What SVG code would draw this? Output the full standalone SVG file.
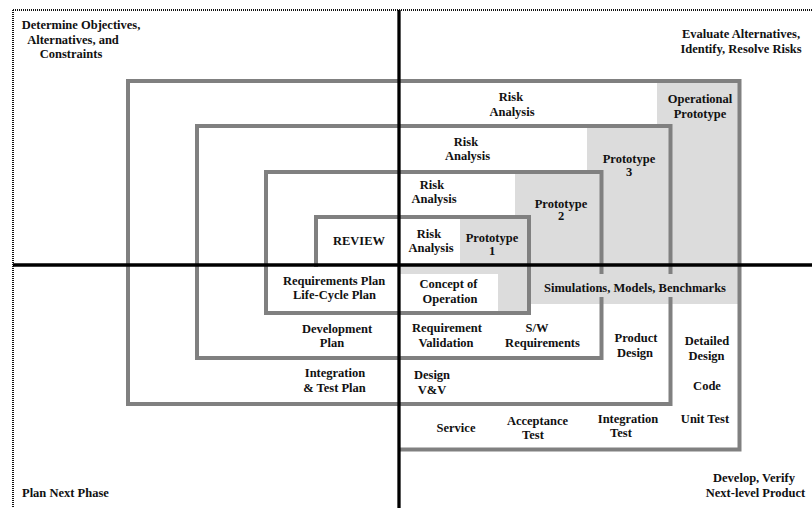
<svg xmlns="http://www.w3.org/2000/svg" width="812" height="508" viewBox="0 0 812 508">
  <style>
    .t { font-family: "Liberation Serif", "Times New Roman", serif; font-size: 12.5px; font-weight: bold; fill: #111; text-anchor: middle; }
    .ts { text-anchor: start; }
    .fill { fill: #dcdcdc; }
    .spiral { fill: none; stroke: #808080; stroke-width: 4; stroke-linejoin: miter; stroke-linecap: square; }
    .axis { stroke: #000; stroke-width: 3.3; }
    .frame { stroke: #111; stroke-width: 2; stroke-dasharray: 1 1; fill: none; }
  </style>

  <rect x="0" y="0" width="812" height="508" fill="#fff"/>

  <!-- dotted outer frame -->
  <g id="frame">
    <line class="frame" x1="13" y1="10" x2="812" y2="10"/>
    <line class="frame" x1="13" y1="10" x2="13" y2="508"/>
  </g>

  <!-- shaded prototype columns and simulation band -->
  <g id="shading">
    <rect class="fill" x="460" y="218" width="69" height="95"/>
    <rect class="fill" x="515" y="172" width="87" height="132"/>
    <rect class="fill" x="587" y="126" width="84" height="178"/>
    <rect class="fill" x="657" y="81" width="83" height="223"/>
    <rect class="fill" x="400" y="264" width="340" height="40"/>
    <rect x="400" y="274" width="98" height="38" fill="#fff"/>
  </g>

  <!-- the spiral -->
  <g id="connectors">
    <path class="spiral" d="M316,265 V217 H529 V313 H266 V172 H601.5 V358 H197 V126 H670.5 V404 H128 V81 H739.5 V449.5 H402"/>
    <rect class="fill" x="538" y="274" width="198" height="23"/>
    <line class="axis" x1="399" y1="10" x2="399" y2="508"/>
    <line class="axis" x1="13" y1="265" x2="812" y2="265"/>
  </g>

  <!-- quadrant captions -->
  <g id="q-determine">
    <text class="t" x="81" y="29">Determine Objectives,</text>
    <text class="t" x="73" y="43.5">Alternatives, and</text>
    <text class="t" x="71" y="58">Constraints</text>
  </g>
  <g id="q-evaluate">
    <text class="t" x="741" y="38">Evaluate Alternatives,</text>
    <text class="t" x="741" y="53">Identify, Resolve Risks</text>
  </g>
  <g id="q-plan">
    <text class="t ts" x="22" y="497">Plan Next Phase</text>
  </g>
  <g id="q-develop">
    <text class="t" x="754" y="482">Develop, Verify</text>
    <text class="t" x="755.5" y="497">Next-level Product</text>
  </g>

  <!-- risk analysis cells -->
  <g id="risk4">
    <text class="t" x="511" y="101">Risk</text>
    <text class="t" x="512" y="115.5">Analysis</text>
  </g>
  <g id="risk3">
    <text class="t" x="466" y="146">Risk</text>
    <text class="t" x="467.5" y="160">Analysis</text>
  </g>
  <g id="risk2">
    <text class="t" x="432" y="189">Risk</text>
    <text class="t" x="434" y="203">Analysis</text>
  </g>
  <g id="risk1">
    <text class="t" x="429" y="237.5">Risk</text>
    <text class="t" x="431" y="251.5">Analysis</text>
  </g>

  <!-- prototypes -->
  <g id="op-prototype">
    <text class="t" x="700" y="103">Operational</text>
    <text class="t" x="700" y="117.5">Prototype</text>
  </g>
  <g id="prototype3">
    <text class="t" x="629" y="163">Prototype</text>
    <text class="t" x="629" y="175.5">3</text>
  </g>
  <g id="prototype2">
    <text class="t" x="561" y="207.5">Prototype</text>
    <text class="t" x="561" y="220">2</text>
  </g>
  <g id="prototype1">
    <text class="t" x="492" y="242">Prototype</text>
    <text class="t" x="492" y="254.5">1</text>
  </g>

  <g id="review"><text class="t" x="359" y="245">REVIEW</text></g>

  <!-- planning cells -->
  <g id="req-plan">
    <text class="t" x="334" y="285">Requirements Plan</text>
    <text class="t" x="334.5" y="299">Life-Cycle Plan</text>
  </g>
  <g id="dev-plan">
    <text class="t" x="337" y="333">Development</text>
    <text class="t" x="332" y="347">Plan</text>
  </g>
  <g id="int-plan">
    <text class="t" x="335" y="377">Integration</text>
    <text class="t" x="334.5" y="392">&amp; Test Plan</text>
  </g>

  <!-- engineering cells -->
  <g id="concept">
    <text class="t" x="448.5" y="287.5">Concept of</text>
    <text class="t" x="450" y="302.5">Operation</text>
  </g>
  <g id="simulations"><text class="t" x="635" y="292">Simulations, Models, Benchmarks</text></g>
  <g id="req-validation">
    <text class="t" x="447" y="332">Requirement</text>
    <text class="t" x="446" y="347">Validation</text>
  </g>
  <g id="sw-req">
    <text class="t" x="537" y="332">S/W</text>
    <text class="t" x="542.5" y="347">Requirements</text>
  </g>
  <g id="product-design">
    <text class="t" x="636" y="342">Product</text>
    <text class="t" x="635" y="357">Design</text>
  </g>
  <g id="detailed-design">
    <text class="t" x="707" y="345">Detailed</text>
    <text class="t" x="706.5" y="360">Design</text>
  </g>
  <g id="design-vv">
    <text class="t" x="432" y="379">Design</text>
    <text class="t" x="432" y="394">V&amp;V</text>
  </g>
  <g id="code"><text class="t" x="707" y="390">Code</text></g>
  <g id="service"><text class="t" x="456" y="432">Service</text></g>
  <g id="acceptance">
    <text class="t" x="537.5" y="425">Acceptance</text>
    <text class="t" x="533" y="439">Test</text>
  </g>
  <g id="integration-test">
    <text class="t" x="628" y="423">Integration</text>
    <text class="t" x="621" y="437">Test</text>
  </g>
  <g id="unit-test"><text class="t" x="705" y="423">Unit Test</text></g>
</svg>
